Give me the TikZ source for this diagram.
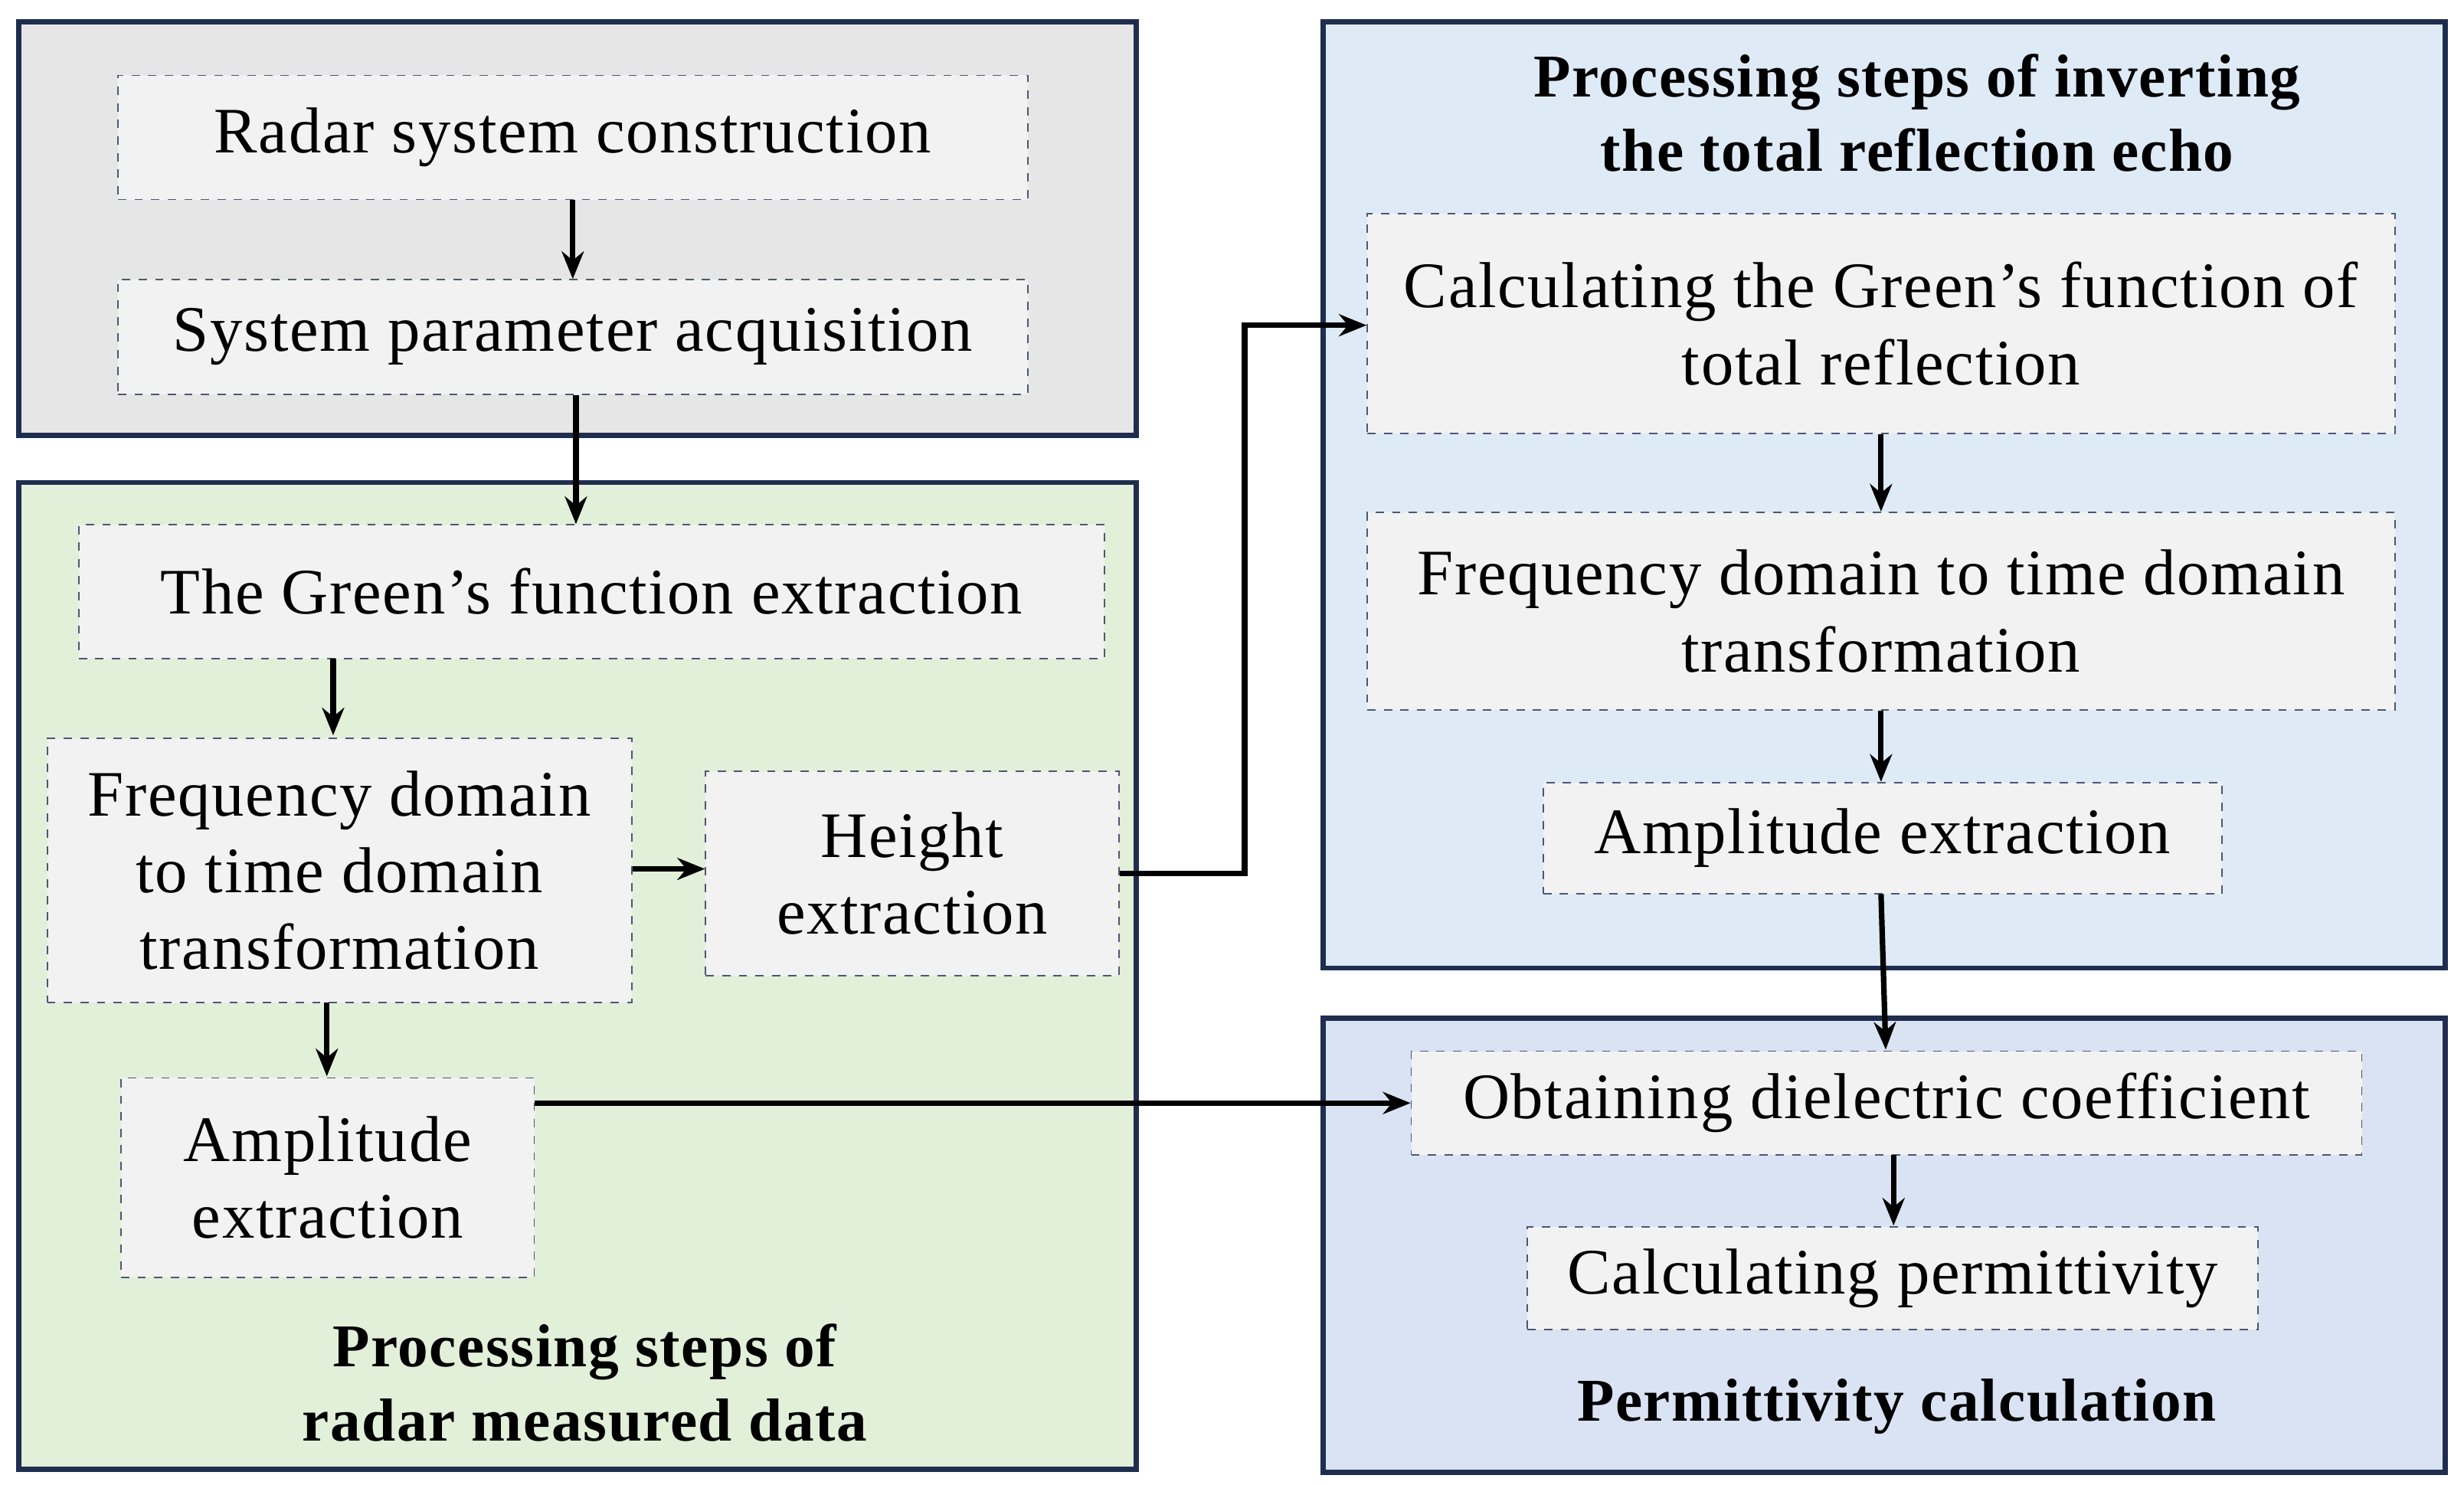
\documentclass[tikz,border=0pt]{standalone}
\usepackage{fontspec}
\setmainfont{Liberation Serif}[LetterSpace=2]
\usetikzlibrary{arrows.meta,calc}
\definecolor{navy}{HTML}{1F2D4F}
\definecolor{gbox}{HTML}{E6E6E6}
\definecolor{grbox}{HTML}{E2EFD9}
\definecolor{bbox}{HTML}{DEEAF6}
\definecolor{b2box}{HTML}{DAE3F3}
\definecolor{nfill}{HTML}{F2F2F2}
\begin{document}
\begin{tikzpicture}[x=0.02cm,y=-0.02cm,
  panel/.style={draw=navy,line width=1.8pt},
  stepbox/.style={draw=navy!80,dashed,line width=0.5pt,fill=nfill,align=center,inner sep=0pt,
    font=\fontsize{23.5}{27.8}\selectfont},
  ttl/.style={align=center,font=\bfseries\fontsize{22}{27}\selectfont},
  arr/.style={-{Stealth[length=10pt,width=8pt]},line width=2pt}]
\useasboundingbox (0,0) rectangle (1568,945);
\draw[panel,fill=gbox] (12,14) rectangle (723,277);
\draw[panel,fill=grbox] (12,307) rectangle (723,935);
\draw[panel,fill=bbox] (842,14) rectangle (1556,616);
\draw[panel,fill=b2box] (842,648) rectangle (1556,937);
\node[stepbox,minimum width=11.58cm,minimum height=1.58cm] (n1) at (364.5,87.5) {Radar system construction};
\node[stepbox,minimum width=11.58cm,minimum height=1.46cm] (n2) at (364.5,214.5) {System parameter acquisition};
\node[stepbox,minimum width=13.06cm,minimum height=1.7cm] (n3) at (376.5,376.5) {The Green's function extraction};
\node[stepbox,minimum width=7.44cm,minimum height=3.36cm] (n4) at (216,554) {Frequency domain\\to time domain\\transformation};
\node[stepbox,minimum width=5.26cm,minimum height=2.6cm] (n5) at (580.5,556) {Height\\extraction};
\node[stepbox,minimum width=5.26cm,minimum height=2.54cm] (n6) at (208.5,749.5) {Amplitude\\extraction};
\node[ttl] (t1) at (372,880) {Processing steps of\\radar measured data};
\node[ttl] (t2) at (1220,72) {Processing steps of inverting\\the total reflection echo};
\node[stepbox,minimum width=13.08cm,minimum height=2.8cm] (m1) at (1197,206) {Calculating the Green's function of\\total reflection};
\node[stepbox,minimum width=13.08cm,minimum height=2.52cm] (m2) at (1197,389) {Frequency domain to time domain\\transformation};
\node[stepbox,minimum width=8.64cm,minimum height=1.42cm] (m3) at (1198,533.5) {Amplitude extraction};
\node[stepbox,minimum width=12.1cm,minimum height=1.32cm] (m4) at (1200.5,702) {Obtaining dielectric coefficient};
\node[stepbox,minimum width=9.3cm,minimum height=1.3cm] (m5) at (1204.5,813.5) {Calculating permittivity};
\node[ttl] (t3) at (1207,895) {Permittivity calculation};
\draw[arr] (n1.south) -- (n2.north);
\draw[arr] ([xshift=0.04cm]n2.south) -- ([xshift=0.04cm]n2.south |- n3.north);
\draw[arr] (212,419) -- (212,468);
\draw[arr] (n4.east |- 0,553) -- (n5.west |- 0,553);
\draw[arr] (n5.east) -- (792,556) -- (792,207) -- (m1.west |- 0,207);
\draw[arr] (208,638) -- (208,685);
\draw[arr] (n6.east |- 0,702) -- (m4.west);
\draw[arr] (m1.south) -- (m2.north);
\draw[arr] (m2.south) -- (m2.south |- m3.north);
\draw[arr] (1197,569) -- (1200,668);
\draw[arr] (1205,735) -- (1205,780);
\end{tikzpicture}
\end{document}
